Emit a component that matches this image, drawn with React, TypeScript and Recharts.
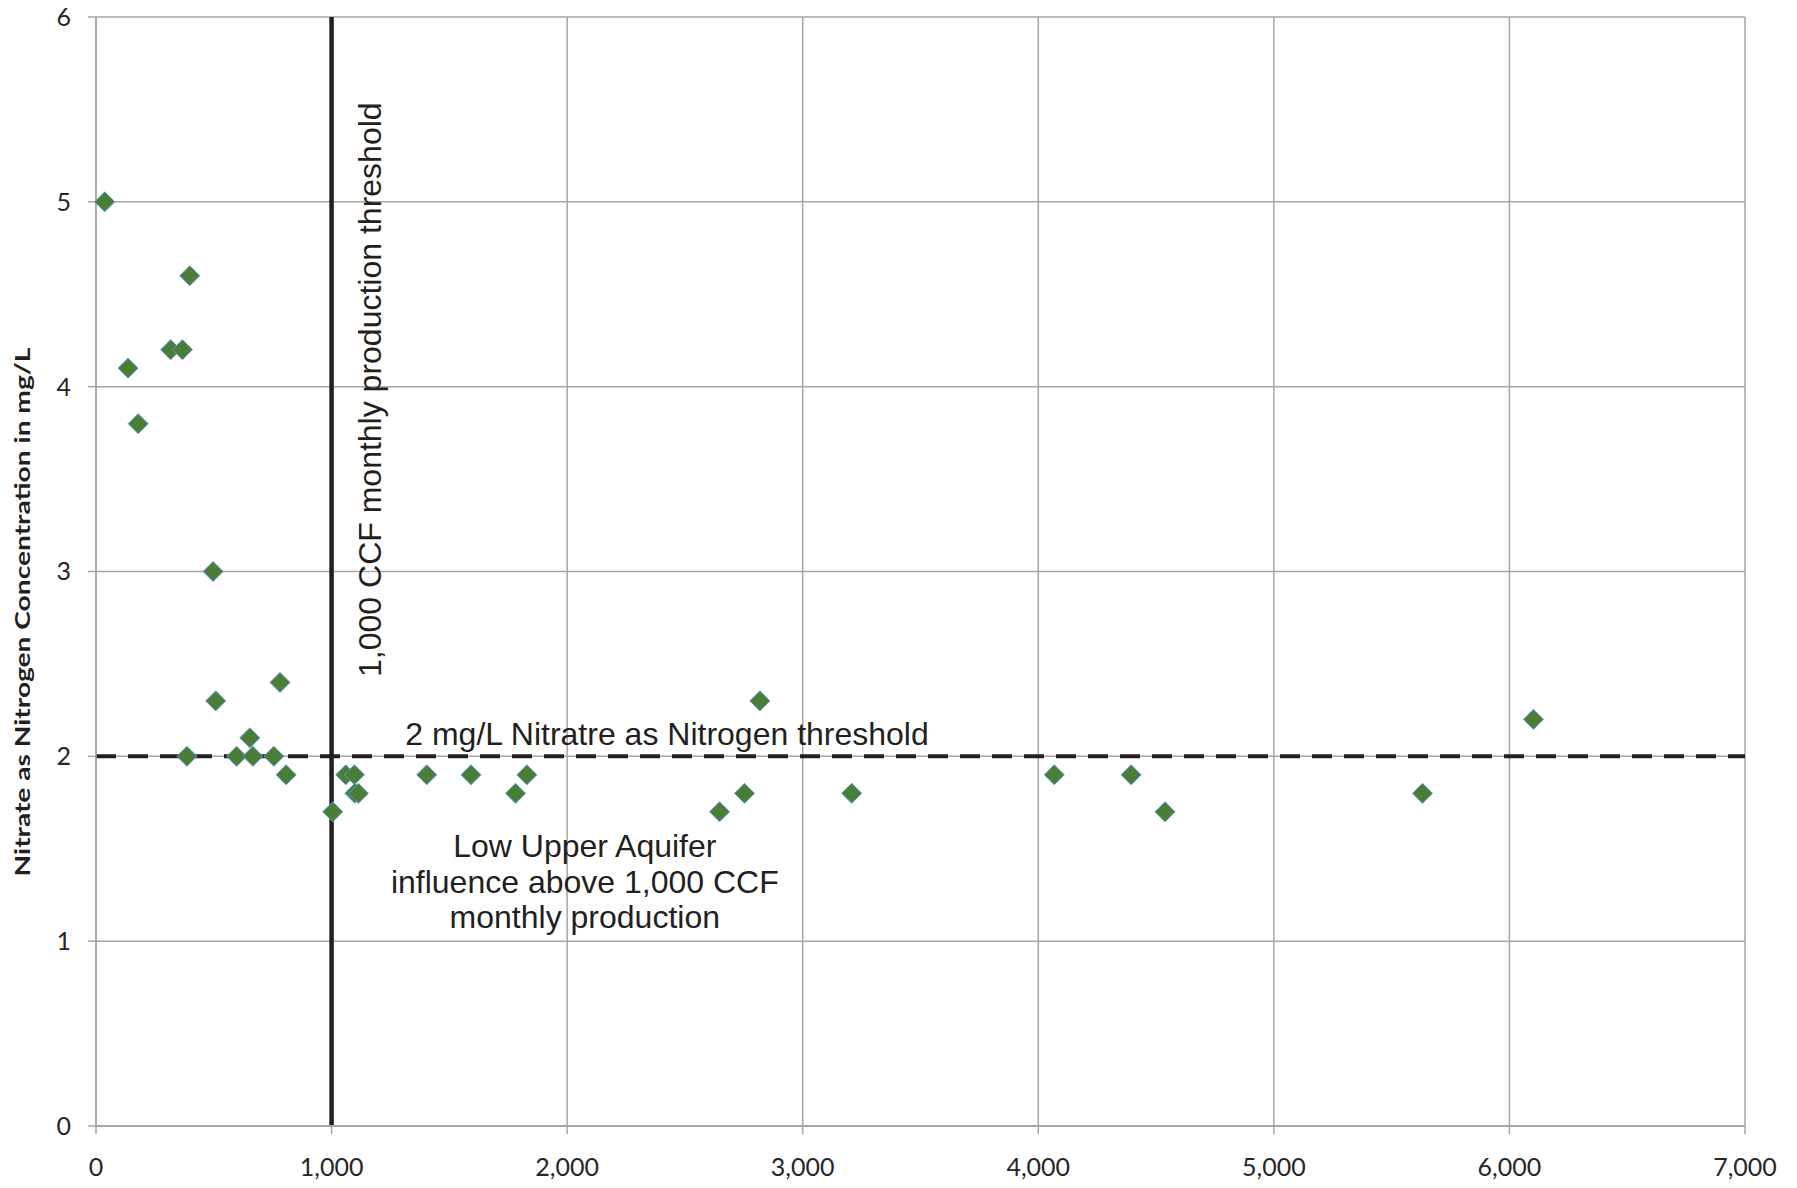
import React from "react";
import {
  ScatterChart,
  Scatter,
  XAxis,
  YAxis,
  CartesianGrid,
  ReferenceLine,
  ReferenceDot,
} from "recharts";

// monthly production (CCF) per sample
const production = [
  37, 136, 179, 317, 367, 398, 386, 497, 508, 597, 653, 666, 755, 781, 807,
  1005, 1060, 1097, 1099, 1114, 1404, 1592, 1781, 1829, 2647, 2753, 2818,
  3208, 4068, 4394, 4538, 5631, 6102,
];

// nitrate as nitrogen, mg/L
const nitrate = [
  5.0, 4.1, 3.8, 4.2, 4.2, 4.6, 2.0, 3.0, 2.3, 2.0, 2.1, 2.0, 2.0, 2.4, 1.9,
  1.7, 1.9, 1.9, 1.8, 1.8, 1.9, 1.9, 1.8, 1.9, 1.7, 1.8, 2.3, 1.8, 1.9, 1.9,
  1.7, 1.8, 2.2,
];

const xTicks = [0, 1000, 2000, 3000, 4000, 5000, 6000, 7000];
const yTicks = [0, 1, 2, 3, 4, 5, 6];

const productionThreshold = 1000;
const nitrateThreshold = 2;

const yTitle = "Nitrate as Nitrogen Concentration in mg/L";
const verticalNote = "1,000 CCF monthly production threshold";
const thresholdNote = "2 mg/L Nitratre as Nitrogen threshold";
const aquiferNote = [
  "Low Upper Aquifer",
  "influence above 1,000 CCF",
  "monthly production",
];

const points = production.map((x, i) => ({ x, y: nitrate[i] }));

const GRID = "#a6a6a6";
const INK = "#231f20";
const NOTE_FONT = "'Liberation Sans', Arial, sans-serif";
const TICK_FONT = "Lato, 'Open Sans', sans-serif";

function Diamond(props: any) {
  const { cx, cy } = props;
  if (cx == null || cy == null) return null;
  const h = 10;
  return (
    <path
      d={`M${cx},${cy - h}L${cx + h},${cy}L${cx},${cy + h}L${cx - h},${cy}Z`}
      fill="#4b7d37"
      stroke="#5b9bd5"
      strokeWidth={1}
    />
  );
}

function center(props: any) {
  const vb = props.viewBox || { x: 0, y: 0, width: 0, height: 0 };
  return { cx: vb.x + (vb.width || 0) / 2, cy: vb.y + (vb.height || 0) / 2 };
}

export default function App() {
  return (
    <div style={{ position: "absolute", left: 0, top: 0, background: "#fff" }}>
      <ScatterChart
        width={1797}
        height={1188}
        margin={{ top: 17, right: 52, bottom: 0, left: 0 }}
      >
        <CartesianGrid stroke={GRID} strokeWidth={1.5} />
        <XAxis
          type="number"
          dataKey="x"
          domain={[0, 7000]}
          ticks={xTicks}
          interval={0}
          height={62}
          tickSize={8}
          tickMargin={24}
          axisLine={{ stroke: GRID, strokeWidth: 2 }}
          tickLine={{ stroke: GRID, strokeWidth: 1.5 }}
          tick={{ fill: "#262626", fontSize: 25, fontFamily: TICK_FONT }}
          tickFormatter={(v) => Number(v).toLocaleString("en-US")}
        />
        <YAxis
          type="number"
          dataKey="y"
          domain={[0, 6]}
          ticks={yTicks}
          interval={0}
          width={96}
          tickSize={8}
          tickMargin={17}
          axisLine={{ stroke: GRID, strokeWidth: 1.5 }}
          tickLine={{ stroke: GRID, strokeWidth: 1.5 }}
          tick={{ fill: "#262626", fontSize: 25, fontFamily: TICK_FONT }}
          label={(props: any) => {
            const vb = props.viewBox || { x: 0, y: 17, width: 96, height: 1109 };
            const x = vb.x + 30;
            const y = vb.y + vb.height / 2 + 40.5;
            return (
              <text
                x={x}
                y={y}
                transform={`rotate(-90, ${x}, ${y})`}
                textAnchor="middle"
                textLength={529}
                lengthAdjust="spacingAndGlyphs"
                fontFamily={TICK_FONT}
                fontWeight={700}
                fontSize={21}
                fill={INK}
              >
                {yTitle}
              </text>
            );
          }}
        />
        <ReferenceLine
          x={productionThreshold}
          stroke={INK}
          strokeWidth={4.5}
          ifOverflow="extendDomain"
        />
        <ReferenceLine
          y={nitrateThreshold}
          stroke={INK}
          strokeWidth={4}
          strokeDasharray="20 12"
        />
        <ReferenceDot
          x={productionThreshold}
          y={4}
          r={1}
          fill="none"
          stroke="none"
          label={(props: any) => {
            const { cx, cy } = center(props);
            const x = cx + 49;
            return (
              <text
                x={x}
                y={cy + 3}
                transform={`rotate(-90, ${x}, ${cy + 3})`}
                textAnchor="middle"
                fontFamily={NOTE_FONT}
                fontSize={32}
                fill={INK}
              >
                {verticalNote}
              </text>
            );
          }}
        />
        <ReferenceDot
          x={2424}
          y={nitrateThreshold}
          r={1}
          fill="none"
          stroke="none"
          label={(props: any) => {
            const { cx, cy } = center(props);
            return (
              <text
                x={cx}
                y={cy - 11}
                textAnchor="middle"
                fontFamily={NOTE_FONT}
                fontSize={32}
                fill={INK}
              >
                {thresholdNote}
              </text>
            );
          }}
        />
        <ReferenceDot
          x={2075}
          y={1.5}
          r={1}
          fill="none"
          stroke="none"
          label={(props: any) => {
            const { cx, cy } = center(props);
            return (
              <text
                textAnchor="middle"
                fontFamily={NOTE_FONT}
                fontSize={32}
                fill={INK}
              >
                {aquiferNote.map((line, i) => (
                  <tspan key={i} x={cx} y={cy + 8 + i * 35.8}>
                    {line}
                  </tspan>
                ))}
              </text>
            );
          }}
        />
        <Scatter data={points} shape={Diamond} isAnimationActive={false} />
      </ScatterChart>
    </div>
  );
}
